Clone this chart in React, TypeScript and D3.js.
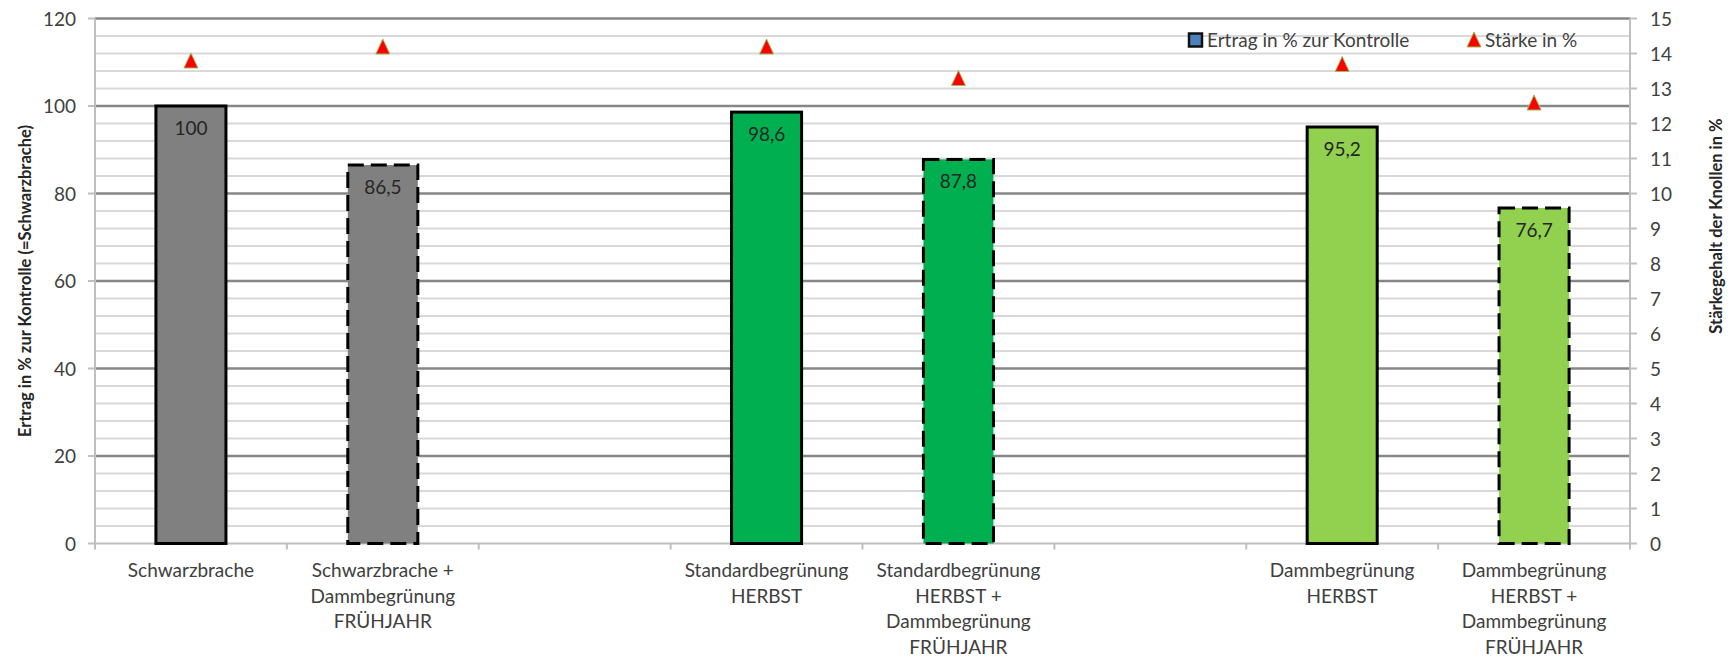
import React from "react";
import * as d3 from "d3";

const categories: string[][] = [
  ["Schwarzbrache"],
  ["Schwarzbrache +", "Dammbegrünung", "FRÜHJAHR"],
  [],
  ["Standardbegrünung", "HERBST"],
  ["Standardbegrünung", "HERBST +", "Dammbegrünung", "FRÜHJAHR"],
  [],
  ["Dammbegrünung", "HERBST"],
  ["Dammbegrünung", "HERBST +", "Dammbegrünung", "FRÜHJAHR"],
];
const ertrag: (number | null)[] = [100, 86.5, null, 98.6, 87.8, null, 95.2, 76.7];
const ertragLabels: string[] = ["100", "86,5", "", "98,6", "87,8", "", "95,2", "76,7"];
const staerke: (number | null)[] = [13.8, 14.2, null, 14.2, 13.3, null, 13.7, 12.6];
const leftTicks: number[] = [0, 20, 40, 60, 80, 100, 120];
const rightTicks: number[] = d3.range(0, 16);
const minorLeft: number[] = d3.range(0, 121, 4).filter((v) => v % 20 !== 0);

const barFill = ["#808080", "#808080", "", "#00b050", "#00b050", "", "#92d050", "#92d050"];
const barDashed = [false, true, false, false, true, false, false, true];

const W = 1733;
const H = 657;
const FONT = "Lato, 'Open Sans', sans-serif";

export default function App() {
  const x0 = 95;
  const x1 = 1630;
  const yTop = 18.5;
  const yBot = 543.5;
  const x = d3.scaleBand<number>().domain(d3.range(categories.length)).range([x0, x1]).paddingInner(0).paddingOuter(0);
  const yL = d3.scaleLinear().domain([0, 120]).range([yBot, yTop]);
  const yR = d3.scaleLinear().domain([0, 15]).range([yBot, yTop]);
  const bw = x.bandwidth() * 0.365;
  const cx = (i: number) => (x(i) as number) + x.bandwidth() / 2;
  const tri = (px: number, py: number) => {
    const p = d3.path();
    p.moveTo(px, py - 7.5);
    p.lineTo(px + 7, py + 7.5);
    p.lineTo(px - 7, py + 7.5);
    p.closePath();
    return p.toString();
  };

  return (
    <svg width={W} height={H} style={{ position: "absolute", left: 0, top: 0, background: "#fff" }} fontFamily={FONT}>
      {minorLeft.map((v) => (
        <line key={"mn" + v} x1={x0} x2={x1} y1={yL(v)} y2={yL(v)} stroke="#d9d9d9" strokeWidth={2} />
      ))}
      {leftTicks.filter((v) => v > 0).map((v) => (
        <line key={"mj" + v} x1={x0} x2={x1} y1={yL(v)} y2={yL(v)} stroke="#878787" strokeWidth={2.5} />
      ))}
      <line x1={x0} x2={x0} y1={yTop} y2={yBot} stroke="#bfbfbf" strokeWidth={2} />
      <line x1={x1} x2={x1} y1={yTop} y2={yBot} stroke="#bfbfbf" strokeWidth={2} />
      <line x1={x0} x2={x1} y1={yBot} y2={yBot} stroke="#bfbfbf" strokeWidth={2} />
      {leftTicks.map((v) => (
        <g key={"lt" + v}>
          <line x1={x0 - 7} x2={x0} y1={yL(v)} y2={yL(v)} stroke="#bfbfbf" strokeWidth={2} />
          <text x={76} y={yL(v) + 7} textAnchor="end" fontSize={19} fill="#404040">
            {v}
          </text>
        </g>
      ))}
      {rightTicks.map((v) => (
        <g key={"rt" + v}>
          <line x1={x1} x2={x1 + 7} y1={yR(v)} y2={yR(v)} stroke="#bfbfbf" strokeWidth={2} />
          <text x={1650} y={yR(v) + 7} textAnchor="start" fontSize={19} fill="#404040">
            {v}
          </text>
        </g>
      ))}
      {d3.range(categories.length + 1).map((i) => {
        const px = x0 + i * x.bandwidth();
        return <line key={"xt" + i} x1={px} x2={px} y1={yBot} y2={yBot + 6} stroke="#bfbfbf" strokeWidth={2} />;
      })}
      {ertrag.map((v, i) =>
        v == null ? null : (
          <g key={"b" + i}>
            <rect
              x={cx(i) - bw / 2}
              y={yL(v)}
              width={bw}
              height={yBot - yL(v)}
              fill={barFill[i]}
              stroke="#000"
              strokeWidth={3}
              strokeDasharray={barDashed[i] ? "16,7" : undefined}
            />
            <text x={cx(i)} y={yL(v) + 29} textAnchor="middle" fontSize={19} fill="#262626">
              {ertragLabels[i]}
            </text>
          </g>
        )
      )}
      {staerke.map((v, i) =>
        v == null ? null : (
          <path key={"t" + i} d={tri(cx(i), yR(v))} fill="#ff0000" stroke="#9bbb59" strokeWidth={1} />
        )
      )}
      {categories.map((lines, i) => (
        <text key={"c" + i} textAnchor="middle" fontSize={19} fill="#404040">
          {lines.map((l, j) => (
            <tspan key={j} x={cx(i)} y={577 + j * 25.5}>
              {l}
            </tspan>
          ))}
        </text>
      ))}
      <text transform={`translate(31,281) rotate(-90)`} textAnchor="middle" fontSize={16.5} fontWeight="bold" fill="#262626">
        Ertrag in % zur Kontrolle (=Schwarzbrache)
      </text>
      <text transform={`translate(1722,226) rotate(-90)`} textAnchor="middle" fontSize={16.5} fontWeight="bold" fill="#262626">
        Stärkegehalt der Knollen in %
      </text>
      <rect x={1189} y={33.5} width={13} height={13} fill="#4f81bd" stroke="#111" strokeWidth={2.5} />
      <text x={1207} y={46.5} fontSize={19} fill="#404040">
        Ertrag in % zur Kontrolle
      </text>
      <path d={tri(1474, 39.5)} fill="#ff0000" stroke="#9bbb59" strokeWidth={1} />
      <text x={1485} y={46.5} fontSize={19} fill="#404040">
        Stärke in %
      </text>
    </svg>
  );
}
